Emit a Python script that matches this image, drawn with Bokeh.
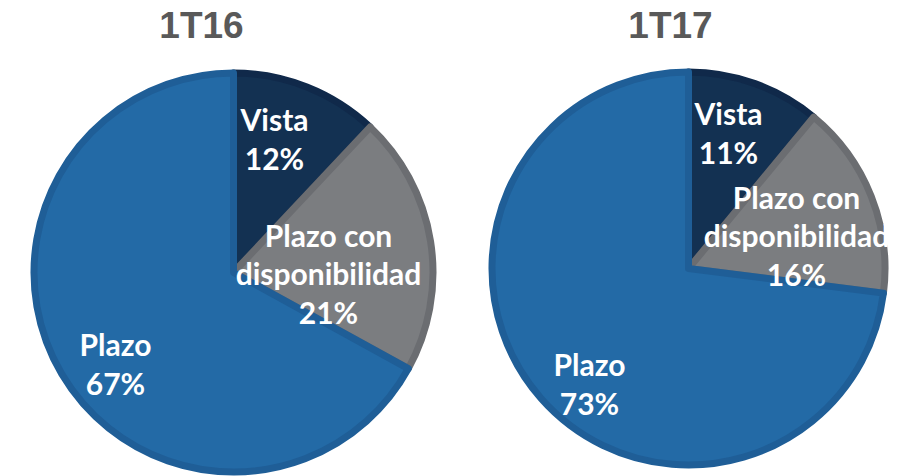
import math
from bokeh.plotting import figure
from bokeh.models import Range1d, ColumnDataSource
from bokeh.core.properties import value
from bokeh.embed import file_html
from bokeh.resources import INLINE

# ---- data ----
categories = ["Vista", "Plazo con disponibilidad", "Plazo"]
periods = ["1T16", "1T17"]
shares_1t16 = [12, 21, 67]
shares_1t17 = [11, 16, 73]

# ---- styles / layout ----
fill_colors = {"Vista": "#133152", "Plazo con disponibilidad": "#7b7d80", "Plazo": "#236aa6"}
edge_colors = {"Vista": "#10294a", "Plazo con disponibilidad": "#6b6d71", "Plazo": "#1f5e97"}
label_lines = {"Vista": "Vista", "Plazo con disponibilidad": "Plazo con\ndisponibilidad", "Plazo": "Plazo"}

H = 476  # page height, used to flip y so screen y grows downward
pies = {
    "1T16": dict(cx=233, cy=272, r=203, title_x=201, title_y=25,
                 labels={"Vista": (274, 138), "Plazo con disponibilidad": (328, 273), "Plazo": (115, 363)}),
    "1T17": dict(cx=688, cy=268, r=200, title_x=670, title_y=25,
                 labels={"Vista": (728, 132), "Plazo con disponibilidad": (796, 235), "Plazo": (589, 383)}),
}

p = figure(width=890, height=476, x_range=Range1d(0, 890), y_range=Range1d(0, 476),
           output_backend="svg", toolbar_location=None, min_border=0)
p.axis.visible = False
p.grid.visible = False
p.outline_line_color = None
p.background_fill_color = "white"

for period, shares in zip(periods, [shares_1t16, shares_1t17]):
    cfg = pies[period]
    total = float(sum(shares))
    cum = 0.0
    xs, ys, rs, starts, ends, fills, edges = [], [], [], [], [], [], []
    lx, ly, lt = [], [], []
    for cat, v in zip(categories, shares):
        a0 = math.pi / 2 - 2 * math.pi * cum / total
        cum += v
        a1 = math.pi / 2 - 2 * math.pi * cum / total
        xs.append(cfg["cx"]); ys.append(H - cfg["cy"])
        rs.append(cfg["r"] - 3.5)
        starts.append(a0); ends.append(a1)
        fills.append(fill_colors[cat]); edges.append(edge_colors[cat])
        x, y = cfg["labels"][cat]
        lx.append(x); ly.append(H - y)
        lt.append(f"{label_lines[cat]}\n{v}%")
    src = ColumnDataSource(dict(x=xs, y=ys, r=rs, s=starts, e=ends, f=fills, l=edges))
    p.wedge(x="x", y="y", radius="r", start_angle="s", end_angle="e", direction="clock",
            fill_color="f", line_color="l", line_width=7, line_join="round", source=src)
    lsrc = ColumnDataSource(dict(x=lx, y=ly, t=lt))
    p.text(x="x", y="y", text="t", source=lsrc, text_color="white",
           text_font=value("Lato"), text_font_style="bold", text_font_size="30px",
           text_align="center", text_baseline="middle", text_line_height=1.08)
    p.text(x=[cfg["title_x"]], y=[H - cfg["title_y"]], text=[period], text_color="#595959",
           text_font=value("Liberation Sans"), text_font_style="bold", text_font_size="37px",
           text_align="center", text_baseline="middle")

open("out.html", "w").write(file_html(p, INLINE))
